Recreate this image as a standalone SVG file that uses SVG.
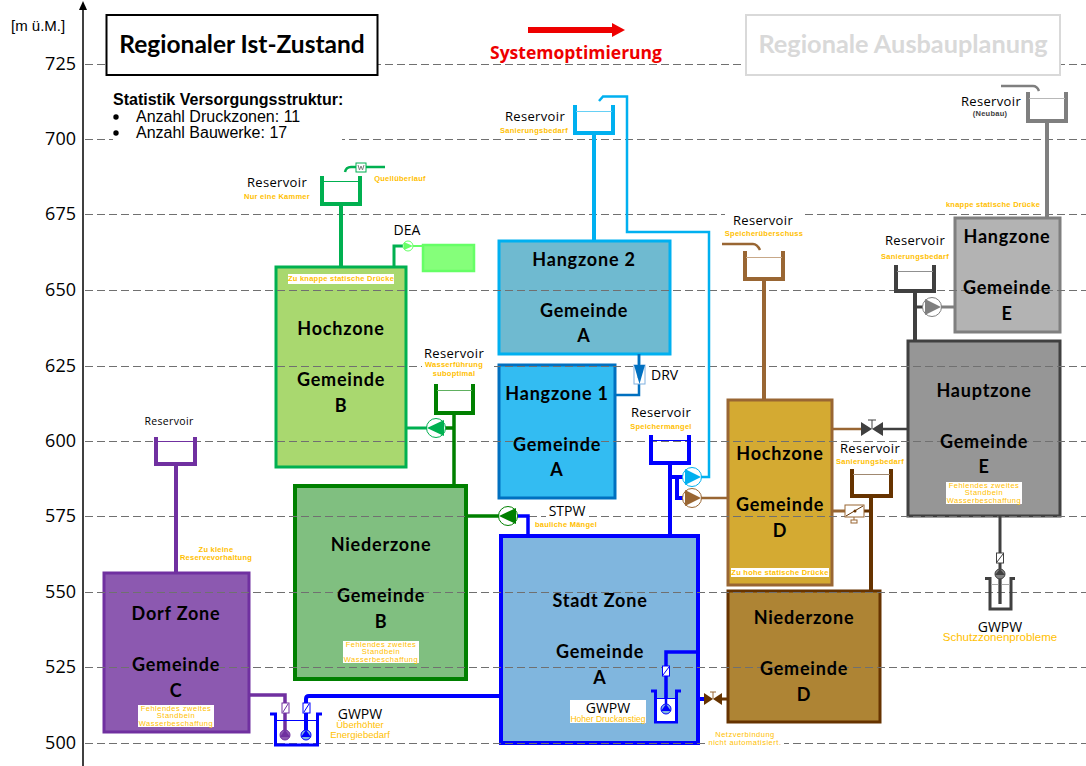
<svg xmlns="http://www.w3.org/2000/svg" width="1086" height="766" viewBox="0 0 1086 766">
<style>
text{font-family:"Liberation Sans",Arial,sans-serif}
.z{font-family:Lato,"Open Sans",sans-serif;font-weight:700;font-size:18px;text-anchor:middle;fill:#000;letter-spacing:.8px}
.r{font-family:"Open Sans",sans-serif;font-size:13px;text-anchor:middle;fill:#000;letter-spacing:.35px}
.k{font-family:"Open Sans",sans-serif;font-size:14px;text-anchor:middle;fill:#000}
.s{font-size:7.5px;font-weight:700;text-anchor:middle;fill:#ffc000;letter-spacing:.25px}
.f{font-size:7.500px;text-anchor:middle;fill:#ffc000;letter-spacing:.5px}
.o{font-size:9.5px;text-anchor:middle;fill:#ffc000}
.g{stroke:#707070;stroke-width:1;stroke-dasharray:8 4;fill:none}
.a{font-family:"Open Sans",sans-serif;font-size:18px;text-anchor:end;fill:#000}
.p{fill:none;stroke-linejoin:miter}
.w{fill:#fff;stroke:none}
.pc{fill:#fff;stroke-width:1}
</style>

<g id="zones">
<g id="hochzone-b"><rect x="276" y="267" width="130" height="200" fill="#a9d86f" stroke="#00b050" stroke-width="3"/></g>
<g id="niederzone-b"><rect x="295" y="486" width="171" height="193" fill="#80bf80" stroke="#008000" stroke-width="4"/></g>
<g id="dorf-zone"><rect x="104" y="573" width="145" height="159" fill="#8c59b0" stroke="#7030a0" stroke-width="3"/></g>
<g id="stadt-zone"><rect x="501" y="536" width="197" height="207" fill="#80b6de" stroke="#0000ff" stroke-width="4"/></g>
<g id="hangzone-2"><rect x="499" y="241" width="171" height="113" fill="#6fbad0" stroke="#00b0f0" stroke-width="3"/></g>
<g id="hangzone-1"><rect x="499" y="365" width="116" height="133" fill="#33bcf2" stroke="#0070c0" stroke-width="3"/></g>
<g id="hochzone-d"><rect x="728" y="400" width="104" height="185" fill="#d4aa32" stroke="#996633" stroke-width="3"/></g>
<g id="niederzone-d"><rect x="728" y="591" width="152" height="131" fill="#ae8434" stroke="#663300" stroke-width="3"/></g>
<g id="hauptzone-e"><rect x="908" y="341" width="152" height="175" fill="#969696" stroke="#404040" stroke-width="3"/></g>
<g id="hangzone-e"><rect x="955" y="218" width="105" height="114" fill="#b3b3b3" stroke="#7f7f7f" stroke-width="3"/></g>
<g id="dea-tank"><rect x="423" y="245" width="51" height="26" fill="#85ff7a" stroke="#66ff66" stroke-width="2.500"/></g>
</g>

<g id="grid">
<path class="g" d="M85 64.500H1086M85 139.500H1086M85 214.500H1086M85 290.500H1086M85 366.500H1086M85 441.500H1086M85 516.500H1086M85 592.500H1086M85 667.500H1086M85 743.500H1086"/>
<rect class="w" x="113" y="130" width="229" height="14"/>
<path d="M83 766V8" stroke="#404040" stroke-width="2" fill="none"/>
<path d="M79 10L83 1L87 10z" fill="#000"/>
</g>

<g id="connectors" class="p">
<g stroke="#00b050">
<path d="M341 205V267" stroke-width="4"/>
<path d="M345 172Q346 167 351 167H385" stroke-width="2.500"/>
<path d="M394 267V246H403" stroke-width="3"/>
<path d="M413 246H423" stroke-width="2" stroke="#66ff66"/>
<path d="M407 428H427" stroke-width="3"/>
</g>
<g stroke="#008000">
<path d="M445 428H454M454 413V486" stroke-width="3.500"/>
<path d="M467 516H499" stroke-width="3.500"/>
</g>
<g stroke="#00b0f0">
<path d="M594 133V241" stroke-width="4"/>
<path d="M599 101L603 96.500H627V232H709V477H701" stroke-width="2.500"/>
</g>
<path d="M639 354V395H615" stroke="#0070c0" stroke-width="2.500"/>
<g stroke="#0000ff">
<path d="M670 463V536" stroke-width="4"/>
<path d="M670 477H683M677 477V498H683" stroke-width="4"/>
<path d="M517 516H528V536" stroke-width="3.500"/>
<path d="M306 735V699Q306 696 309 696H501" stroke-width="4"/>
<path d="M698 652H666V709" stroke-width="3.500"/>
<path d="M699 699H705" stroke-width="4"/>
</g>
<path d="M249 695H285V735" stroke="#7030a0" stroke-width="3.500"/>
<path d="M176 464V573" stroke="#7030a0" stroke-width="4"/>
<g stroke="#996633">
<path d="M764 279V400" stroke-width="4"/>
<path d="M722 244H753Q757 244 760 250" stroke-width="2.500"/>
<path d="M701 498H728" stroke-width="2.500"/>
<path d="M832 429H861" stroke-width="2.500"/>
<path d="M832 511H845" stroke-width="3"/>
</g>
<g stroke="#663300">
<path d="M871 496V591" stroke-width="4"/>
<path d="M864 511H871" stroke-width="3"/>
<path d="M721 699H728" stroke-width="3"/>
</g>
<g stroke="#404040">
<path d="M915 291V341" stroke-width="4"/>
<path d="M915 307H924" stroke-width="3"/>
<path d="M882 429H908" stroke-width="2.500"/>
<path d="M1000 516V604" stroke-width="3"/>
</g>
<g stroke="#7f7f7f">
<path d="M941 307H955" stroke-width="3"/>
<path d="M1047 121V218" stroke-width="4"/>
<path d="M1001 86H1033Q1037 86 1039 91" stroke-width="2.500"/>
</g>
</g>

<g id="res-hochzone-b"><path class="p" d="M322 176V204H360V176" stroke="#00b050" stroke-width="4"/><path d="M323 181.500H359" stroke="#00b050"/>
<rect x="356" y="163" width="10" height="9" fill="#fff" stroke="#00b050"/><path d="M358 165L359.500 170L361 166L362.500 170L364 165" fill="none" stroke="#808080"/>
<text class="r" x="277" y="187">Reservoir</text><text class="s" x="277" y="199">Nur eine Kammer</text><text class="s" x="400" y="181">Quellüberlauf</text></g>
<g id="res-hangzone-2"><path class="p" d="M575 105V133H613V105" stroke="#00b0f0" stroke-width="4"/><path d="M576 111.500H612" stroke="#66d0f5"/>
<text class="r" x="535" y="121">Reservoir</text><text class="s" x="534" y="133">Sanierungsbedarf</text></g>
<g id="res-b"><path class="p" d="M436 384V413H473V384" stroke="#008000" stroke-width="4"/><path d="M437 390.500H472" stroke="#60b060"/>
<rect class="w" x="422" y="348" width="72" height="32"/>
<text class="r" x="454" y="358">Reservoir</text><text class="s" x="454" y="367">Wasserführung</text><text class="s" x="454" y="376">suboptimal</text></g>
<g id="res-speichermangel"><path class="p" d="M651 435V463H689V435" stroke="#0000ff" stroke-width="4"/><path d="M652 440.500H688" stroke="#0000ff"/>
<rect class="w" x="628" y="405" width="66" height="26"/>
<text class="r" x="661" y="417">Reservoir</text><text class="s" x="661" y="429">Speichermangel</text></g>
<g id="res-ueberschuss"><path class="p" d="M745 251V279H783V251" stroke="#996633" stroke-width="4"/><path d="M746 257.500H782" stroke="#c8a888"/>
<rect class="w" x="725" y="208" width="78" height="28"/>
<text class="r" x="763" y="225">Reservoir</text><text class="s" x="764" y="236">Speicherüberschuss</text></g>
<g id="res-d"><path class="p" d="M852 469V496H891V469" stroke="#663300" stroke-width="4"/><path d="M853 474.500H890" stroke="#a08870"/>
<rect class="w" x="836" y="443" width="70" height="24"/>
<text class="r" x="870" y="453">Reservoir</text><text class="s" x="870" y="464">Sanierungsbedarf</text></g>
<g id="res-e"><path class="p" d="M896 265V291H934V265" stroke="#404040" stroke-width="4"/><path d="M897 271.500H933" stroke="#909090"/>
<text class="r" x="915" y="245">Reservoir</text><text class="s" x="915" y="259">Sanierungsbedarf</text></g>
<g id="res-neubau"><path class="p" d="M1028 92V121H1066V92" stroke="#7f7f7f" stroke-width="4"/><path d="M1029 98.500H1065" stroke="#b8b8b8"/>
<text class="r" x="991" y="106">Reservoir</text><text class="s" style="fill:#404040" x="990" y="116">(Neubau)</text></g>
<g id="res-dorf"><path class="p" d="M156 437V464H195V437" stroke="#7030a0" stroke-width="4"/><path d="M157 441.500H194" stroke="#7030a0"/>
<text class="r" style="font-size:10.500px" x="169" y="425">Reservoir</text></g>

<g id="pumps">
<g id="pump-hangzone"><circle class="pc" cx="692" cy="477" r="9.500" stroke="#00b0f0"/><path d="M685 469L701 477L685 485z" fill="#00b0f0"/></g>
<g id="pump-hochzone-d"><circle class="pc" cx="692" cy="498" r="9.500" stroke="#996633"/><path d="M685 490L701 498L685 506z" fill="#996633"/></g>
<g id="pump-hochzone-b"><circle class="pc" cx="436" cy="428" r="9.500" stroke="#00b050"/><path d="M444 420L427 428L444 436z" fill="#00b050"/></g>
<g id="pump-stpw"><circle class="pc" cx="508" cy="516" r="9.500" stroke="#008000"/><path d="M516 508L499 516L516 524z" fill="#008000"/></g>
<g id="pump-e"><circle class="pc" cx="932" cy="307" r="9.500" stroke="#7f7f7f"/><path d="M925 299L941 307L925 315z" fill="#7f7f7f"/></g>
<g id="pump-dea"><circle class="pc" cx="408" cy="246" r="5" stroke="#66ff66"/><path d="M404 242L413 246L404 250z" fill="#66ff66"/></g>
</g>

<g id="drv"><rect x="634" y="365" width="11" height="19" fill="#fff" stroke="#7fb0e0"/><path d="M634 365H645L639.500 384z" fill="#0070c0"/><path d="M639 354V378" stroke="#0070c0" stroke-width="2.500"/>
<text class="k" style="text-anchor:start" x="651" y="380">DRV</text></g>

<g id="valve-e"><path d="M861 422L872 429L861 436zM883 422L872 429L883 436z" fill="#404040"/><path d="M872 429V420M868 420H876" stroke="#404040" fill="none"/></g>
<g id="valve-d"><rect x="845" y="505" width="19" height="12" fill="#fff" stroke="#996633"/><path d="M846 516L863 506" stroke="#663300"/><circle cx="855" cy="511" r="1.500" fill="#663300"/><rect x="851" y="520" width="6" height="3" fill="#fff" stroke="#996633"/><path d="M854 517V520" stroke="#996633"/></g>
<g id="valve-netz"><path d="M704 693L713 699L704 705z" fill="#663300"/><path d="M722 693L713 699L722 705z" fill="#663300"/><path d="M713 699V692M710 692H716" stroke="#996633" fill="none"/></g>

<g id="gwpw-e">
<rect x="996.500" y="553" width="7" height="10" fill="#fff" stroke="#404040"/><path d="M997 562L1003 554" stroke="#404040"/>
<circle cx="1000" cy="574" r="5" fill="#808080" stroke="#404040"/><path d="M995 575L1000 569L1005 575z" fill="#404040"/>
<path class="p" d="M985 578.500H990V609H1011V578.500H1015" stroke="#404040" stroke-width="3"/><path d="M991 584.500H1010" stroke="#aaa"/><path d="M1000 579V604" stroke="#404040" stroke-width="2.500"/>
<text class="k" x="1000" y="632">GWPW</text><text class="o" style="font-size:11.500px" x="1000" y="641">Schutzzonenprobleme</text></g>

<g id="gwpw-c">
<path class="p" d="M270 714H275.500V745H317.500V714H322" stroke="#0000ff" stroke-width="3"/><path d="M276 720.500H317" stroke="#0000ff"/>
<rect x="282" y="703" width="7" height="10" fill="#fff" stroke="#7030a0"/><path d="M283 712L288 704" stroke="#7030a0"/>
<rect x="303" y="703" width="7" height="10" fill="#fff" stroke="#0000ff"/><path d="M304 712L309 704" stroke="#0000ff"/>
<circle cx="285" cy="735" r="5" fill="#8c59b0" stroke="#7030a0"/><path d="M280 737L285 730L290 737z" fill="#7030a0"/>
<circle cx="306" cy="735" r="5" fill="#80b6de" stroke="#0000ff"/><path d="M301 737L306 730L311 737z" fill="#0000ff"/>
<text class="k" x="360" y="719">GWPW</text><text class="o" x="360" y="728">Überhöhter</text><text class="o" x="360" y="738">Energiebedarf</text></g>

<g id="gwpw-a">
<path class="p" d="M651 691H655.500V722H676.500V691H681" stroke="#0000ff" stroke-width="3" fill="#fff"/><rect class="w" x="657" y="698" width="18" height="23"/><path d="M656 698.500H676" stroke="#0000ff"/>
<path d="M666 690V709" stroke="#0000ff" stroke-width="2.500"/>
<rect x="662.500" y="666" width="7" height="10" fill="#fff" stroke="#0000ff"/><path d="M663 675L669 667" stroke="#0000ff"/>
<circle cx="666" cy="709" r="5" fill="#80b6de" stroke="#0000ff"/><path d="M661 711L666 704L671 711z" fill="#0000ff"/>
<rect class="w" x="570" y="700" width="76" height="23"/>
<text class="k" x="608" y="713">GWPW</text><text class="o" style="font-size:8.500px" x="608" y="722">Hoher Druckanstieg</text></g>

<g id="zone-labels">
<text class="z" x="341" y="335">Hochzone</text><text class="z" x="341" y="386">Gemeinde</text><text class="z" x="341" y="412">B</text>
<text class="z" x="381" y="551">Niederzone</text><text class="z" x="381" y="602">Gemeinde</text><text class="z" x="381" y="628">B</text>
<text class="z" x="176" y="620">Dorf Zone</text><text class="z" x="176" y="671">Gemeinde</text><text class="z" x="176" y="697">C</text>
<text class="z" x="600" y="607">Stadt Zone</text><text class="z" x="600" y="658">Gemeinde</text><text class="z" x="600" y="684">A</text>
<text class="z" x="584" y="266">Hangzone 2</text><text class="z" x="584" y="317">Gemeinde</text><text class="z" x="584" y="342">A</text>
<text class="z" x="557" y="400">Hangzone 1</text><text class="z" x="557" y="451">Gemeinde</text><text class="z" x="557" y="476">A</text>
<text class="z" x="780" y="460">Hochzone</text><text class="z" x="780" y="511">Gemeinde</text><text class="z" x="780" y="537">D</text>
<text class="z" x="804" y="624">Niederzone</text><text class="z" x="804" y="675">Gemeinde</text><text class="z" x="804" y="701">D</text>
<text class="z" x="984" y="397">Hauptzone</text><text class="z" x="984" y="448">Gemeinde</text><text class="z" x="984" y="473">E</text>
<text class="z" x="1007" y="243">Hangzone</text><text class="z" x="1007" y="294">Gemeinde</text><text class="z" x="1007" y="320">E</text>
</g>

<g id="notes">
<rect class="w" x="288" y="274" width="106" height="10"/><text class="s" x="341" y="281">Zu knappe statische Drücke</text>
<rect class="w" x="731" y="568" width="98" height="9"/><text class="s" x="780" y="575">Zu hohe statische Drücke</text>
<rect class="w" x="138" y="705" width="76" height="22"/><text class="f" x="176" y="711">Fehlendes zweites</text><text class="f" x="176" y="718">Standbein</text><text class="f" x="176" y="725.500">Wasserbeschaffung</text>
<rect class="w" x="343" y="641" width="76" height="22"/><text class="f" x="381" y="647">Fehlendes zweites</text><text class="f" x="381" y="654">Standbein</text><text class="f" x="381" y="661.500">Wasserbeschaffung</text>
<rect class="w" x="946" y="482" width="76" height="22"/><text class="f" x="984" y="488">Fehlendes zweites</text><text class="f" x="984" y="495">Standbein</text><text class="f" x="984" y="502.500">Wasserbeschaffung</text>
<text class="s" x="993" y="207">knappe statische Drücke</text>
<text class="s" x="216" y="552">Zu kleine</text><text class="s" x="216" y="559.500">Reservevorhaltung</text>
<rect class="w" x="708" y="730" width="76" height="15"/>
<text class="f" x="745" y="737">Netzverbindung</text><text class="f" x="745" y="744.500">nicht automatisiert.</text>
<rect class="w" x="392" y="224" width="30" height="15"/><text class="k" x="407" y="235">DEA</text>
<rect class="w" x="546" y="506" width="42" height="12"/><text class="k" x="567" y="516">STPW</text><text class="s" x="566" y="527">bauliche Mängel</text>
</g>

<g id="axis-labels">
<text x="11" y="31" font-size="15" fill="#000">[m ü.M.]</text>
<text class="a" x="76" y="70">725</text><text class="a" x="76" y="145">700</text><text class="a" x="76" y="220">675</text><text class="a" x="76" y="296">650</text><text class="a" x="76" y="372">625</text><text class="a" x="76" y="447">600</text><text class="a" x="76" y="522">575</text><text class="a" x="76" y="598">550</text><text class="a" x="76" y="673">525</text><text class="a" x="76" y="749">500</text>
</g>

<g id="title-ist"><rect x="106.500" y="15" width="271" height="60" fill="#fff" stroke="#000" stroke-width="2"/><text x="242" y="53" text-anchor="middle" font-size="24.500" font-weight="700" fill="#000" style="font-family:Lato,sans-serif">Regionaler Ist-Zustand</text></g>
<g id="title-plan"><rect x="746" y="15" width="314" height="60" fill="#fff" stroke="#d9d9d9" stroke-width="2"/><text x="903" y="53" text-anchor="middle" font-size="25.300" font-weight="700" fill="#d9d9d9" style="font-family:Lato,sans-serif">Regionale Ausbauplanung</text></g>
<g id="optimierung"><path d="M528 30H612" stroke="#e00" stroke-width="6" fill="none"/><path d="M612 23L625 30L612 37z" fill="#e00"/>
<text x="576" y="59" text-anchor="middle" font-size="17.500" font-weight="700" fill="#e00" style="font-family:'Open Sans',sans-serif">Systemoptimierung</text></g>
<g id="statistik"><text x="113" y="105" font-size="16" font-weight="700" fill="#000">Statistik Versorgungsstruktur:</text>
<circle cx="116" cy="117" r="2.700" fill="#000"/><circle cx="116" cy="133" r="2.700" fill="#000"/>
<text x="136" y="122" font-size="16" fill="#000">Anzahl Druckzonen: 11</text><text x="136" y="138" font-size="16" fill="#000">Anzahl Bauwerke: 17</text></g>
</svg>
